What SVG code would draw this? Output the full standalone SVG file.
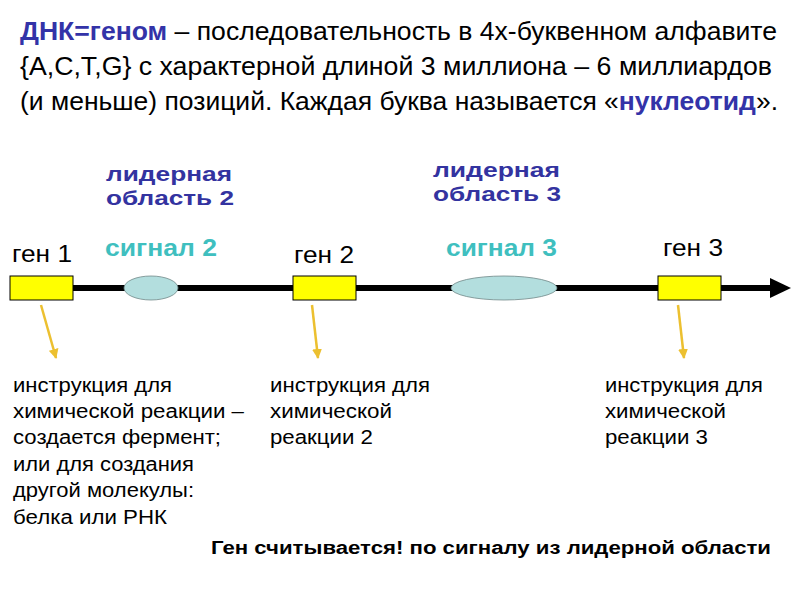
<svg xmlns="http://www.w3.org/2000/svg" width="800" height="600" viewBox="0 0 800 600">
<style>
text{font-family:"Liberation Sans",Arial,sans-serif;fill:#000}
.hd{font-size:26px}
.hb{font-weight:bold;fill:#3333a8}
.gen{font-size:24px}
.sig{font-size:23px;font-weight:bold;fill:#3fbfbf}
.lead{font-size:21px;font-weight:bold;fill:#3333a0}
.ins{font-size:20px}
.gene{fill:#ffff00;stroke:#000;stroke-width:1}
.sigel{fill:#b3dede;stroke:#708888;stroke-width:0.8}
.ya{stroke:#ecc030;stroke-width:2.5;fill:none}
</style>
<defs>
<marker id="ah" viewBox="0 0 10 10" refX="9" refY="5" markerWidth="4" markerHeight="4" orient="auto" markerUnits="strokeWidth">
<path d="M0,0 L10,5 L0,10 Z" fill="#ecc030"/>
</marker>
</defs>
<rect width="800" height="600" fill="#fff"/>
<g id="header">
<text class="hd" x="20" y="40" textLength="757" lengthAdjust="spacingAndGlyphs"><tspan class="hb">ДНК=геном</tspan> – последовательность в 4х-буквенном алфавите</text>
<text class="hd" x="20" y="75" textLength="752" lengthAdjust="spacingAndGlyphs">{A,C,T,G} с характерной длиной 3 миллиона – 6 миллиардов</text>
<text class="hd" x="20" y="110" textLength="758" lengthAdjust="spacingAndGlyphs">(и меньше) позиций. Каждая буква называется «<tspan class="hb">нуклеотид</tspan>».</text>
</g>
<g id="connectors">
<line x1="10" y1="288" x2="775" y2="288" stroke="#000" stroke-width="6"/>
<path d="M770,278 L791,288 L770,298 Z" fill="#000"/>
<line class="ya" x1="41" y1="305" x2="56" y2="358" marker-end="url(#ah)"/>
<line class="ya" x1="312" y1="305" x2="318" y2="358" marker-end="url(#ah)"/>
<line class="ya" x1="678" y1="305" x2="684" y2="358" marker-end="url(#ah)"/>
</g>
<g id="signal2">
<ellipse class="sigel" cx="151" cy="288" rx="27" ry="12"/>
<text class="sig" x="105" y="256" textLength="112" lengthAdjust="spacingAndGlyphs">сигнал 2</text>
</g>
<g id="signal3">
<ellipse class="sigel" cx="504" cy="288" rx="53" ry="12"/>
<text class="sig" x="446" y="256" textLength="111" lengthAdjust="spacingAndGlyphs">сигнал 3</text>
</g>
<g id="leader2">
<text class="lead" x="106" y="181" textLength="126" lengthAdjust="spacingAndGlyphs">лидерная</text>
<text class="lead" x="106" y="205" textLength="128" lengthAdjust="spacingAndGlyphs">область 2</text>
</g>
<g id="leader3">
<text class="lead" x="433" y="177" textLength="127" lengthAdjust="spacingAndGlyphs">лидерная</text>
<text class="lead" x="433" y="201" textLength="128" lengthAdjust="spacingAndGlyphs">область 3</text>
</g>
<g id="gene1">
<rect class="gene" x="10" y="276" width="63" height="24"/>
<text class="gen" x="12" y="262" textLength="60" lengthAdjust="spacingAndGlyphs">ген 1</text>
</g>
<g id="gene2">
<rect class="gene" x="293" y="276" width="63" height="24"/>
<text class="gen" x="294" y="263" textLength="60" lengthAdjust="spacingAndGlyphs">ген 2</text>
</g>
<g id="gene3">
<rect class="gene" x="658" y="276" width="63" height="24"/>
<text class="gen" x="663" y="256" textLength="60" lengthAdjust="spacingAndGlyphs">ген 3</text>
</g>
<g id="instr1">
<text class="ins" x="13" y="392" textLength="159" lengthAdjust="spacingAndGlyphs">инструкция для</text>
<text class="ins" x="13" y="418" textLength="231" lengthAdjust="spacingAndGlyphs">химической реакции –</text>
<text class="ins" x="13" y="444" textLength="208" lengthAdjust="spacingAndGlyphs">создается фермент;</text>
<text class="ins" x="13" y="471" textLength="181" lengthAdjust="spacingAndGlyphs">или для создания</text>
<text class="ins" x="13" y="497" textLength="181" lengthAdjust="spacingAndGlyphs">другой молекулы:</text>
<text class="ins" x="13" y="524" textLength="154" lengthAdjust="spacingAndGlyphs">белка или РНК</text>
</g>
<g id="instr2">
<text class="ins" x="270" y="392" textLength="160" lengthAdjust="spacingAndGlyphs">инструкция для</text>
<text class="ins" x="270" y="418" textLength="122" lengthAdjust="spacingAndGlyphs">химической</text>
<text class="ins" x="270" y="444" textLength="103" lengthAdjust="spacingAndGlyphs">реакции 2</text>
</g>
<g id="instr3">
<text class="ins" x="605" y="392" textLength="158" lengthAdjust="spacingAndGlyphs">инструкция для</text>
<text class="ins" x="605" y="418" textLength="121" lengthAdjust="spacingAndGlyphs">химической</text>
<text class="ins" x="605" y="444" textLength="103" lengthAdjust="spacingAndGlyphs">реакции 3</text>
</g>
<g id="footer">
<text x="211" y="554" style="font-size:18px;font-weight:bold" textLength="560" lengthAdjust="spacingAndGlyphs">Ген считывается! по сигналу из лидерной области</text>
</g>
</svg>
